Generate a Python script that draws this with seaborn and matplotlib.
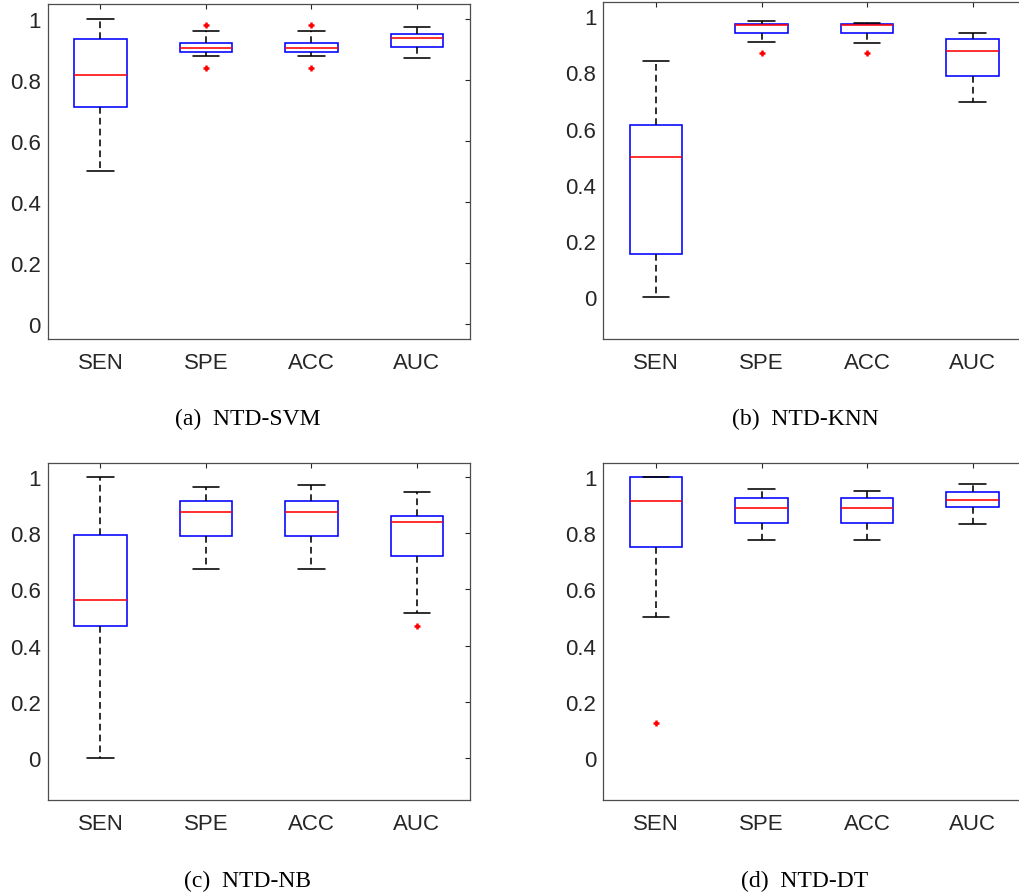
import numpy as np
import pandas as pd
import matplotlib
matplotlib.use("Agg")
import matplotlib.pyplot as plt
import seaborn as sns

# metrics on the x axis
metrics = ["SEN", "SPE", "ACC", "AUC"]

# five-number summaries per panel: lower whisker, q1, median, q3, upper whisker
svm_lo = [0.500, 0.879, 0.878, 0.871]
svm_q1 = [0.711, 0.890, 0.891, 0.907]
svm_med = [0.817, 0.905, 0.905, 0.937]
svm_q3 = [0.935, 0.921, 0.921, 0.950]
svm_hi = [1.000, 0.962, 0.961, 0.973]
svm_flier_metric = ["SPE", "SPE", "ACC", "ACC"]
svm_flier_value = [0.981, 0.838, 0.979, 0.838]

knn_lo = [0.000, 0.909, 0.904, 0.694]
knn_q1 = [0.153, 0.942, 0.941, 0.786]
knn_med = [0.499, 0.969, 0.968, 0.878]
knn_q3 = [0.614, 0.973, 0.972, 0.918]
knn_hi = [0.842, 0.982, 0.976, 0.941]
knn_flier_metric = ["SPE", "ACC"]
knn_flier_value = [0.870, 0.870]

nb_lo = [0.000, 0.671, 0.671, 0.515]
nb_q1 = [0.469, 0.791, 0.791, 0.720]
nb_med = [0.562, 0.875, 0.875, 0.841]
nb_q3 = [0.792, 0.914, 0.914, 0.862]
nb_hi = [1.000, 0.963, 0.970, 0.947]
nb_flier_metric = ["AUC"]
nb_flier_value = [0.469]

dt_lo = [0.500, 0.776, 0.777, 0.834]
dt_q1 = [0.751, 0.837, 0.837, 0.892]
dt_med = [0.914, 0.891, 0.891, 0.918]
dt_q3 = [1.000, 0.924, 0.924, 0.945]
dt_hi = [1.000, 0.956, 0.952, 0.977]
dt_flier_metric = ["SEN"]
dt_flier_value = [0.125]

captions = ["(a)  NTD-SVM", "(b)  NTD-KNN", "(c)  NTD-NB", "(d)  NTD-DT"]
ylims = [(-0.05, 1.05), (-0.15, 1.05), (-0.15, 1.05), (-0.15, 1.05)]

sns.set_style("white")
plt.rcParams["font.family"] = ["Liberation Sans", "DejaVu Sans"]

W, H = 1019, 895
fig = plt.figure(figsize=(W / 100, H / 100), dpi=100)

# axes boxes in pixels: left, top, right, bottom
boxes_px = [(47.7, 4.7, 469.7, 340), (603.3, 3.3, 1025.3, 340),
            (47.7, 464, 469.7, 801), (603.3, 464, 1025.3, 801)]
caption_px = [(248, 425), (805, 425), (248, 887), (805, 887)]

panels = [
    (svm_lo, svm_q1, svm_med, svm_q3, svm_hi, svm_flier_metric, svm_flier_value),
    (knn_lo, knn_q1, knn_med, knn_q3, knn_hi, knn_flier_metric, knn_flier_value),
    (nb_lo, nb_q1, nb_med, nb_q3, nb_hi, nb_flier_metric, nb_flier_value),
    (dt_lo, dt_q1, dt_med, dt_q3, dt_hi, dt_flier_metric, dt_flier_value),
]

axcol = "#262626"
for i, (lo, q1, med, q3, hi, fm, fv) in enumerate(panels):
    l, t, r, b = boxes_px[i]
    ax = fig.add_axes([l / W, 1 - b / H, (r - l) / W, (b - t) / H])

    # the five summary numbers per metric reproduce the box exactly with whis=(0, 100)
    rows = []
    for k, m in enumerate(metrics):
        for v in (lo[k], q1[k], med[k], q3[k], hi[k]):
            rows.append({"metric": m, "value": v})
    df = pd.DataFrame(rows)

    sns.boxplot(data=df, x="metric", y="value", order=metrics, ax=ax,
                whis=(0, 100), width=0.5, color="white", linecolor="black",
                linewidth=1.15, showfliers=False,
                boxprops={"edgecolor": "blue", "facecolor": "none"},
                medianprops={"color": "red"},
                whiskerprops={"color": "black", "linestyle": (0, (4.2, 2.6))},
                capprops={"color": "black"})

    fl = pd.DataFrame({"metric": fm, "value": fv})
    sns.stripplot(data=fl, x="metric", y="value", order=metrics, ax=ax,
                  jitter=False, marker="+", color="red", size=5, linewidth=1.8)

    ax.set_xlim(-0.5, 3.5)
    ax.set_ylim(*ylims[i])
    ax.set_yticks([0, 0.2, 0.4, 0.6, 0.8, 1.0])
    ax.set_yticklabels(["0", "0.2", "0.4", "0.6", "0.8", "1"])
    ax.set_xlabel("")
    ax.set_ylabel("")
    ax.tick_params(direction="in", top=True, right=True, length=3.6, width=0.8,
                   color=axcol, labelcolor=axcol, labelsize=16)
    ax.tick_params(axis="y", pad=5.0)
    ax.tick_params(axis="x", pad=9.5)
    for s in ax.spines.values():
        s.set_visible(True)
        s.set_color("#4d4d4d")
        s.set_linewidth(0.9)

    cx, cy = caption_px[i]
    fig.text(cx / W, 1 - cy / H, captions[i], ha="center", va="baseline",
             fontsize=17, family=["Liberation Serif", "DejaVu Serif"], color="black")

fig.savefig("out.png", dpi=100)
